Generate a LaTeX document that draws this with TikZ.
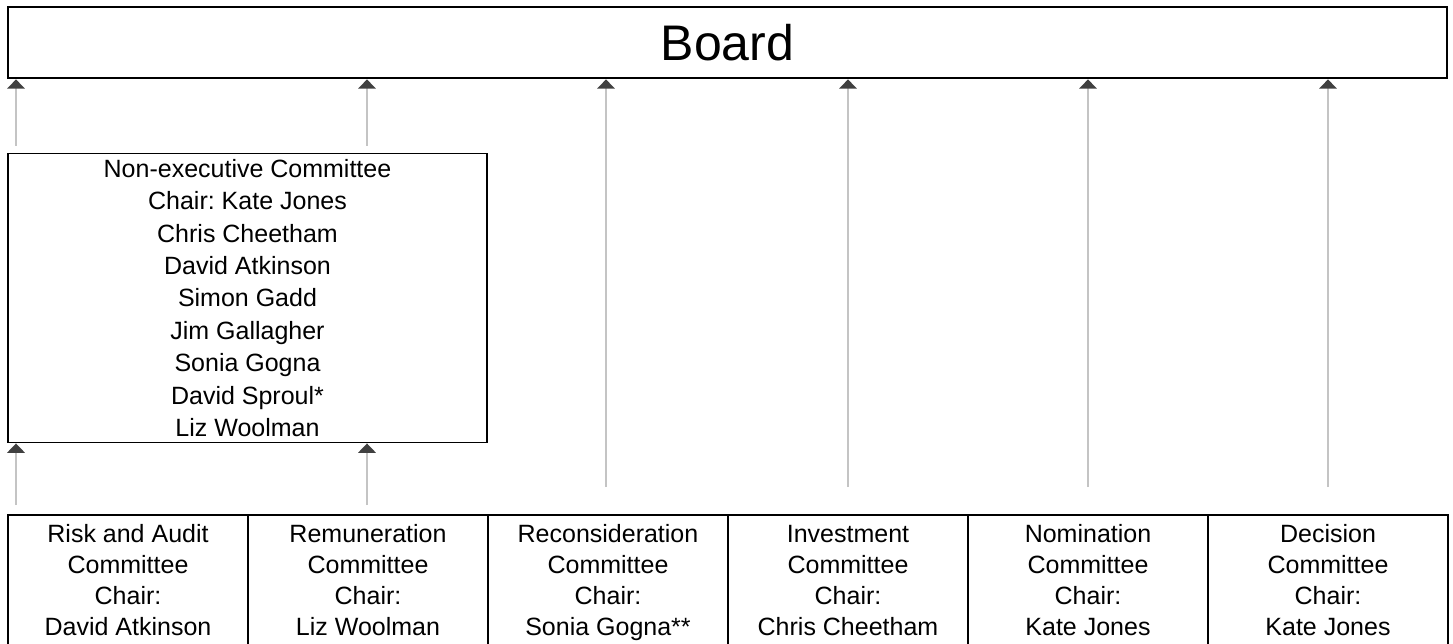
\documentclass[tikz,border=0pt]{standalone}
\usepackage{fontspec}
\setmainfont{Liberation Sans}
\usepackage{xcolor}
\usepackage{tikz}
\usetikzlibrary{arrows.meta,positioning,calc}
\definecolor{linkgray}{HTML}{C4C4C4}
\definecolor{tipgray}{HTML}{404040}
\frenchspacing

\begin{document}
\begin{tikzpicture}[x=0.75pt,y=-0.75pt,
  board/.style={draw,line width=2pt,minimum width=1079.25pt,minimum height=53.25pt,
    inner sep=0pt,font=\fontsize{37.5}{40}\selectfont},
  panel/.style={draw,line width=1.4pt,align=center,inner sep=0pt,
    font=\fontsize{18.75}{24.3}\selectfont},
  cell/.style={panel,minimum width=180pt,minimum height=97.5pt,outer sep=0pt,
    font=\fontsize{18.75}{23.2}\selectfont,text height=83pt,text depth=0pt},
  link/.style={-{Triangle[length=7pt,width=13pt,color=tipgray]},line width=2pt,linkgray}
]
\useasboundingbox (0,0) rectangle (1453,643);
\clip (0,0) rectangle (1453,643);
\node[board] (board) at (727.5,42.5) {Board};
\node[panel,minimum width=359.25pt,minimum height=216.75pt] (nonexec) at (247.5,298)
  {Non-executive Committee\\Chair: Kate Jones\\Chris Cheetham\\David Atkinson\\Simon Gadd\\
   Jim Gallagher\\Sonia Gogna\\David Sproul*\\Liz Woolman};
\node[cell] (riskc) at (128,580) {Risk and Audit\\Committee\\Chair:\\David Atkinson};
\node[cell,right=0pt of riskc] (remc) {Remuneration\\Committee\\Chair:\\Liz Woolman};
\node[cell,right=0pt of remc] (recc) {Reconsideration\\Committee\\Chair:\\Sonia Gogna**};
\node[cell,right=0pt of recc] (invc) {Investment\\Committee\\Chair:\\Chris Cheetham};
\node[cell,right=0pt of invc] (nomc) {Nomination\\Committee\\Chair:\\Kate Jones};
\node[cell,right=0pt of nomc] (decc) {Decision\\Committee\\Chair:\\Kate Jones};
% two committees report through the non-executive committee
\coordinate (riskfoot) at ($(riskc.north west)+(8,-10)$);
\coordinate (remfoot) at ($(remc.north)+(-1,-10)$);
\draw[link] (riskfoot) -- (riskfoot |- nonexec.south);
\draw[link] (remfoot) -- (remfoot |- nonexec.south);
\draw[link] ($(riskfoot |- nonexec.north)+(0,-7)$) -- (riskfoot |- board.south);
\draw[link] ($(remfoot |- nonexec.north)+(0,-7)$) -- (remfoot |- board.south);
% the rest go straight to the board
\coordinate (recfoot) at ($(recc.north)+(-2,-28)$);
\draw[link] (recfoot) -- (recfoot |- board.south);
\draw[link] ($(invc.north)+(0,-28)$) -- (invc.north |- board.south);
\draw[link] ($(nomc.north)+(0,-28)$) -- (nomc.north |- board.south);
\draw[link] ($(decc.north)+(0,-28)$) -- (decc.north |- board.south);
\end{tikzpicture}
\end{document}
